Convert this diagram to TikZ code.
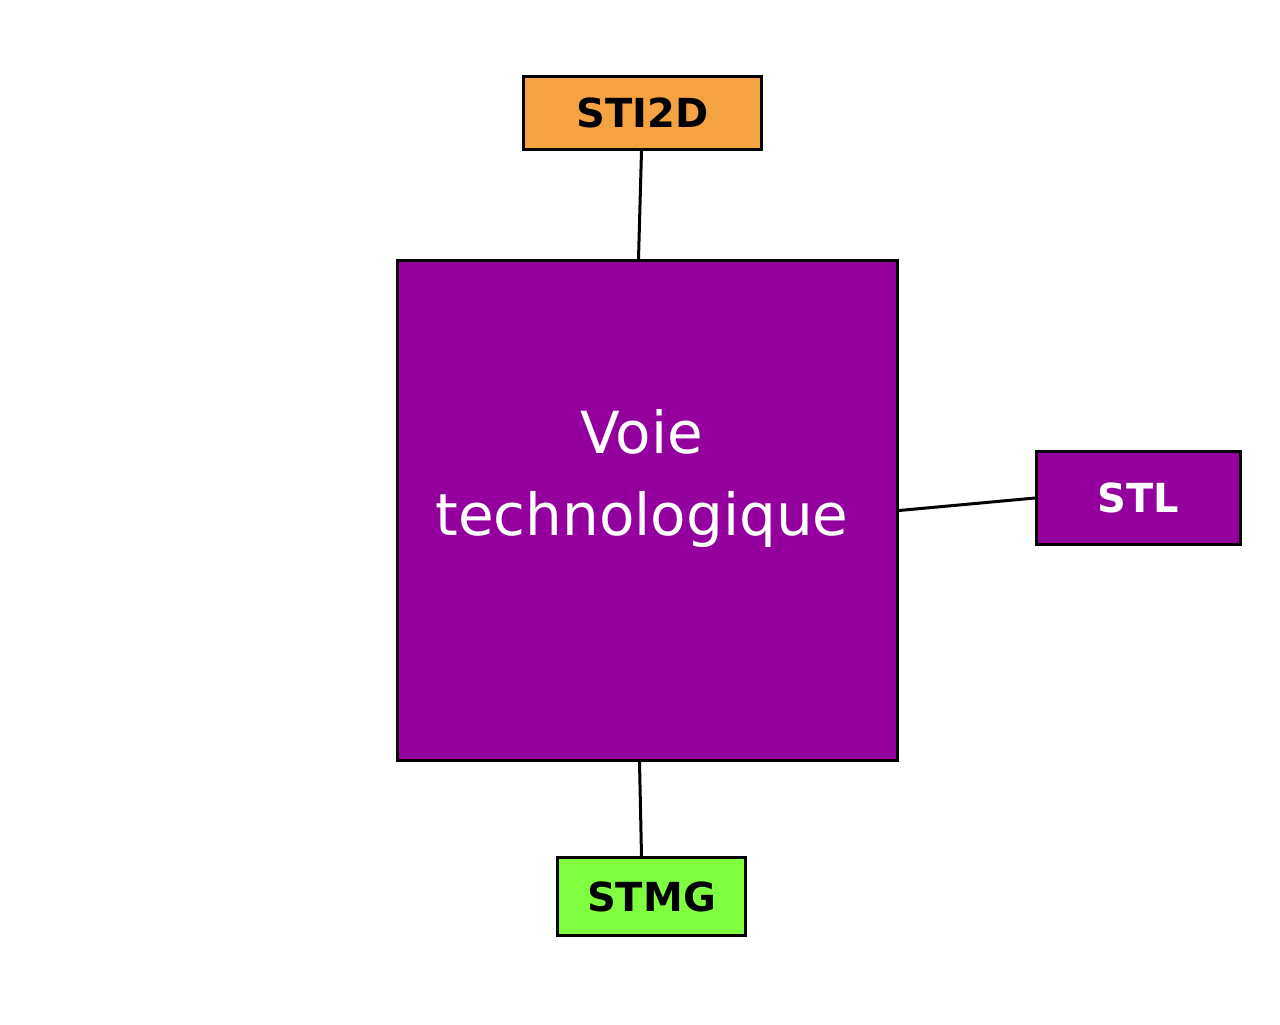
\documentclass[tikz,border=0pt]{standalone}
\usepackage{fontspec}
\setmainfont{DejaVu Sans}
\definecolor{purp}{HTML}{94009E}
\definecolor{orng}{HTML}{F5A342}
\definecolor{grn}{HTML}{7FFF3F}
\begin{document}
\begin{tikzpicture}[x=0.5pt,y=-0.5pt,
  box/.style={draw=black,line width=1.5pt,inner sep=0pt,anchor=north west},
  lbl/.style={font=\fontsize{20}{24}\selectfont\bfseries},
  conn/.style={line width=1.5pt}]
\useasboundingbox (0,0) rectangle (1280,1024);
\node[box,fill=purp,minimum width=250pt,minimum height=250pt] (main) at (396,259) {};
\node[text=white,align=center,font=\fontsize{29}{41}\selectfont] (maintxt) at (642,478) {Voie\\technologique};
\node[box,fill=orng,minimum width=119pt,minimum height=36.5pt] (sti) at (522,75) {};
\node[lbl] (stit) at (sti.center) {STI2D};
\node[box,fill=purp,minimum width=102pt,minimum height=46.5pt] (stl) at (1035,450) {};
\node[lbl,text=white] (stlt) at (stl.center) {STL};
\node[box,fill=grn,minimum width=94pt,minimum height=39pt] (stmg) at (556,856) {};
\node[lbl] (stmgt) at (stmg.center) {STMG};
\draw[conn] ([xshift=-0.5pt]sti.south) -- ([xshift=-4.5pt]main.north);
\draw[conn] (main.east) -- (stl.west);
\draw[conn] ([xshift=-4pt]main.south) -- ([xshift=-5pt]stmg.north);
\end{tikzpicture}
\end{document}
